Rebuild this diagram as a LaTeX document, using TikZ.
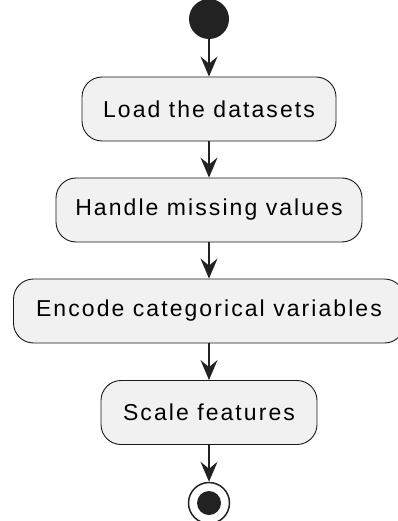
\documentclass[tikz,border=0pt]{standalone}
\usepackage{fontspec}
\setmainfont{Liberation Sans}[LetterSpace=9]
\usepackage{xcolor}
\usetikzlibrary{arrows.meta}
\definecolor{actFill}{RGB}{241,241,241}
\definecolor{actLine}{RGB}{24,24,24}
\definecolor{actDot}{RGB}{34,34,34}
\tikzset{
  actbox/.style={draw=actLine,line width=0.9pt,fill=actFill,rounded corners=20pt,
    minimum height=64pt,inner sep=0pt,font=\fontsize{23}{26}\selectfont,text=black},
  actflow/.style={-{Stealth[length=20pt,width=17pt,inset=7pt]},draw=actDot,line width=1.5pt},
  startdot/.style={circle,fill=actDot,minimum size=40pt,inner sep=0pt},
  endring/.style={circle,draw=actDot,line width=1.5pt,fill=white,minimum size=41pt,inner sep=0pt},
  enddot/.style={circle,fill=actDot,minimum size=24pt,inner sep=0pt},
}

\begin{document}
\begin{tikzpicture}[x=1pt,y=-1pt]
\useasboundingbox (0,0) rectangle (398,521);

% start and end markers
\node[startdot] (start) at (209,19) {};
\node[endring] (stop) at (209,503) {};
\node[enddot] (stopdot) at (stop) {};

% the four steps
\node[actbox,minimum width=254pt] (load) at (209,109) {Load the datasets};
\node[actbox,minimum width=306pt] (missing) at (209,210) {Handle missing values};
\node[actbox,minimum width=391pt] (encode) at (209,311) {Encode categorical variables};
\node[actbox,minimum width=216pt] (scale) at (209,412.5) {Scale features};

\draw[actflow] (start.south) -- (load.north);
\draw[actflow] (load.south) -- (missing.north);
\draw[actflow] (missing.south) -- (encode.north);
\draw[actflow] (encode.south) -- (scale.north);
\draw[actflow] (scale.south) -- (stop.north);
\end{tikzpicture}
\end{document}
